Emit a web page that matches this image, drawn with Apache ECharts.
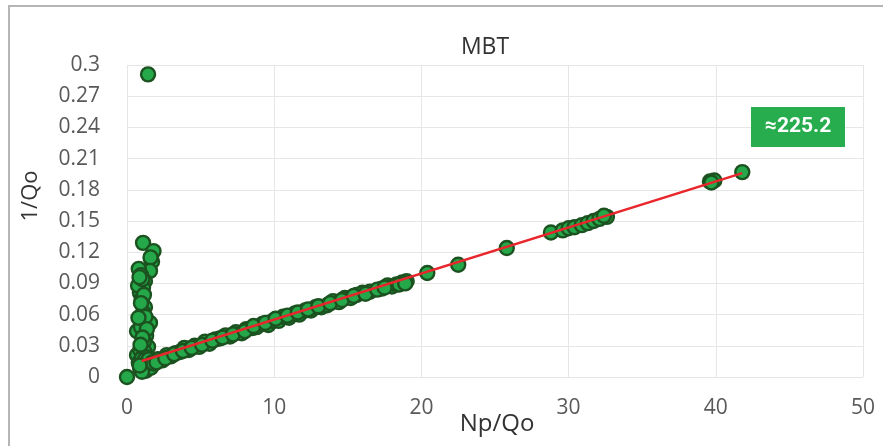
<!DOCTYPE html>
<html>
<head>
<meta charset="utf-8">
<script src="https://cdn.jsdelivr.net/npm/echarts@6/dist/echarts.min.js"></script>
<style>html,body{margin:0;padding:0;background:#fff}#c{width:883px;height:446px}</style>
</head>
<body>
<div id="c"></div>
<script>
// Early (vertical) branch of the MBT plot
const earlyNpQo = [0, 1.43, 1.09, 1.80, 1.70, 1.60, 1.56, 0.80, 0.95, 1.22, 0.88, 1.09, 0.75, 1.00, 1.22, 1.10, 1.56, 0.68, 0.95, 1.30, 1.43, 1.15, 0.68, 0.90, 1.20, 0.80, 1.00, 1.30, 1.10, 1.40, 0.90, 1.60,
  1.05, 0.85, 1.15, 0.95, 1.25, 0.78, 1.35, 1.05, 0.92, 1.18, 1.48, 1.28, 1.62, 1.70, 1.02, 0.86];
const earlyInvQo = [0, 0.291, 0.129, 0.121, 0.111, 0.115, 0.102, 0.104, 0.098, 0.092, 0.081, 0.086, 0.088, 0.075, 0.067, 0.062, 0.052, 0.044, 0.048, 0.040, 0.029, 0.034, 0.021, 0.026, 0.024, 0.014, 0.018, 0.019, 0.010, 0.008, 0.008, 0.012,
  0.094, 0.096, 0.079, 0.071, 0.058, 0.057, 0.046, 0.038, 0.031, 0.016, 0.017, 0.006, 0.009, 0.014, 0.005, 0.011];
// Straight-line (MBT) branch
const lineNpQo = [1.8, 2.1, 2.4, 2.7, 3.0, 3.3, 3.6, 3.9, 4.2, 4.6, 4.9, 5.3, 5.6, 6.0, 6.3, 6.7, 7.0, 7.4, 7.8, 8.1, 8.5, 8.8, 9.2, 9.6, 9.9, 10.3, 10.6, 11.0, 11.4, 11.7, 12.1, 12.5, 12.8, 13.2, 13.6, 14.0, 14.4, 14.8, 15.2, 15.6, 16.0, 16.5, 17.3, 17.7, 18.0, 18.3, 18.7, 19.0, 20.4, 22.5, 25.8, 28.8, 29.6, 30.0, 30.4, 30.9, 31.3, 31.7, 32.1, 32.6, 39.6, 39.9, 41.8,
  2.0, 2.6, 3.2, 3.8, 4.4, 5.1, 5.8, 6.5, 7.2, 8.0, 8.6, 9.4, 10.1, 10.9, 11.6, 12.3, 13.0, 13.8, 14.6, 15.4, 16.2, 17.0, 17.5, 18.5, 18.9, 32.4, 39.7];
const lineInvQo = [0.013, 0.017, 0.016, 0.021, 0.020, 0.023, 0.024, 0.028, 0.026, 0.030, 0.029, 0.034, 0.032, 0.036, 0.037, 0.040, 0.039, 0.043, 0.042, 0.046, 0.047, 0.048, 0.051, 0.050, 0.054, 0.054, 0.058, 0.057, 0.061, 0.060, 0.064, 0.064, 0.067, 0.067, 0.069, 0.073, 0.072, 0.076, 0.076, 0.079, 0.081, 0.082, 0.085, 0.088, 0.087, 0.089, 0.091, 0.092, 0.100, 0.108, 0.124, 0.139, 0.141, 0.143, 0.144, 0.146, 0.148, 0.150, 0.152, 0.154, 0.188, 0.189, 0.197,
  0.014, 0.018, 0.022, 0.025, 0.028, 0.031, 0.035, 0.038, 0.041, 0.044, 0.049, 0.052, 0.056, 0.059, 0.062, 0.065, 0.068, 0.071, 0.074, 0.078, 0.080, 0.084, 0.086, 0.089, 0.090, 0.155, 0.187];
// Trend line end points
const trendNpQo = [1.0, 41.8];
const trendInvQo = [0.0154, 0.196];
const annotationText = '≈225.2';
const chartTitle = 'MBT';
const xName = 'Np/Qo';
const yName = '1/Qo';

const scatterData = [];
earlyNpQo.forEach((x, i) => scatterData.push([x, earlyInvQo[i]]));
lineNpQo.forEach((x, i) => scatterData.push([x, lineInvQo[i]]));
const trendData = trendNpQo.map((x, i) => [x, trendInvQo[i]]);

const chart = echarts.init(document.getElementById('c'));
const axisLabelStyle = { color: '#595959', fontSize: 21, fontFamily: 'Open Sans' };
chart.setOption({
  animation: false,
  backgroundColor: '#fff',
  grid: { left: 127, right: 20, top: 65, bottom: 69, containLabel: false, outerBoundsMode: 'none' },
  xAxis: {
    type: 'value', min: 0, max: 50, interval: 10,
    axisLine: { show: false }, axisTick: { show: false },
    axisLabel: Object.assign({ margin: 21 }, axisLabelStyle),
    splitLine: { show: true, lineStyle: { color: '#e6e6e6', width: 1 } }
  },
  yAxis: {
    type: 'value', min: 0, max: 0.3, interval: 0.03,
    axisLine: { show: false }, axisTick: { show: false },
    axisLabel: Object.assign({ margin: 27, formatter: v => String(+v.toFixed(2)) }, axisLabelStyle),
    splitLine: { show: true, lineStyle: { color: '#e6e6e6', width: 1 } }
  },
  series: [
    {
      type: 'scatter', data: scatterData, symbol: 'circle', symbolSize: 14,
      itemStyle: { color: '#25a84a', borderColor: '#1c5220', borderWidth: 2.4, opacity: 1 },
      z: 2
    },
    {
      type: 'line', data: trendData, symbol: 'none',
      lineStyle: { color: '#e8262b', width: 2.5 }, z: 3
    }
  ],
  graphic: [
    { type: 'rect', shape: { x: 9, y: 6, width: 900, height: 500 }, style: { fill: 'none', stroke: '#b5b5b5', lineWidth: 2 }, z: 10 },
    { type: 'text', x: 485, y: 47, style: { text: chartTitle, fill: '#333', font: '23px "Open Sans"', align: 'center', verticalAlign: 'middle' } },
    { type: 'text', x: 497, y: 424, style: { text: xName, fill: '#333', font: '24px "Open Sans"', align: 'center', verticalAlign: 'middle' } },
    { type: 'text', x: 31, y: 196, rotation: Math.PI / 2, style: { text: yName, fill: '#333', font: '22px "Open Sans"', align: 'center', verticalAlign: 'middle' } },
    { type: 'rect', shape: { x: 751, y: 107, width: 94, height: 40 }, style: { fill: '#27ad4e' }, z: 10 },
    { type: 'text', x: 798, y: 127, z: 11, style: { text: annotationText, fill: '#fff', font: 'bold 21px Roboto', align: 'center', verticalAlign: 'middle' } }
  ]
});
</script>
</body>
</html>
